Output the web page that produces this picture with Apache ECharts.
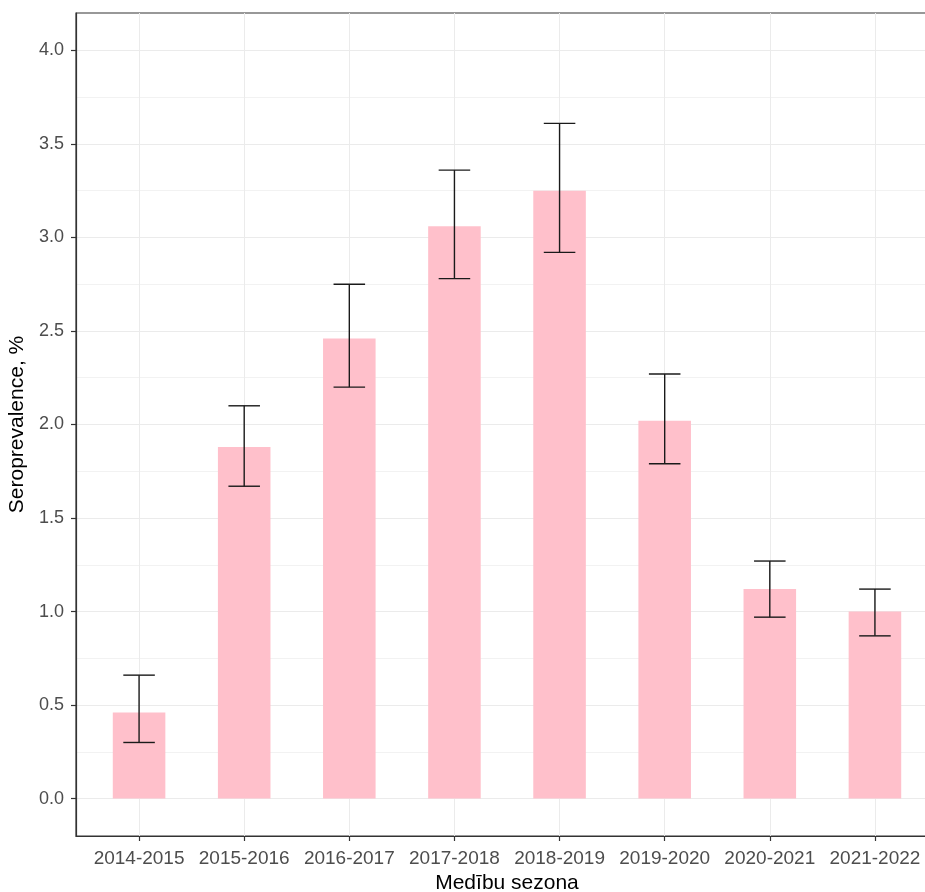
<!DOCTYPE html>
<html>
<head>
<meta charset="utf-8">
<script src="https://cdn.jsdelivr.net/npm/echarts@6/dist/echarts.min.js"></script>
<style>
html,body{margin:0;padding:0;background:#fff;}
#chart{width:925px;height:892px;}
</style>
</head>
<body>
<div id="chart"></div>
<script>
const categories = ['2014-2015','2015-2016','2016-2017','2017-2018','2018-2019','2019-2020','2020-2021','2021-2022'];
const values = [0.46, 1.88, 2.46, 3.06, 3.25, 2.02, 1.12, 1.00];
const lower  = [0.30, 1.67, 2.20, 2.78, 2.92, 1.79, 0.97, 0.87];
const upper  = [0.66, 2.10, 2.75, 3.36, 3.61, 2.27, 1.27, 1.12];
const yTicks = [0, 0.5, 1.0, 1.5, 2.0, 2.5, 3.0, 3.5, 4.0];
const yMinor = [0.25, 0.75, 1.25, 1.75, 2.25, 2.75, 3.25, 3.75];

const xPos = categories.map((c, i) => i + 1);
const barData = values.map((v, i) => [xPos[i], v]);
const errData = values.map((v, i) => [xPos[i], lower[i], upper[i]]);

const chart = echarts.init(document.getElementById('chart'), null, {renderer: 'canvas'});
const font = 'Liberation Sans, Arial, sans-serif';

chart.setOption({
  backgroundColor: '#fff',
  animation: false,
  grid: {left: 76, right: -13, top: 13, bottom: 56, show: true, borderColor: '#333333', borderWidth: 1.2,
    backgroundColor: 'transparent', containLabel: false, outerBoundsMode: 'none'},
  xAxis: {
    type: 'value', min: 0.4, max: 8.6,
    name: 'Medību sezona', nameLocation: 'middle', nameGap: 33,
    nameTextStyle: {fontFamily: font, fontSize: 21, color: '#000'},
    axisLine: {show: true, onZero: false, lineStyle: {color: '#333333', width: 1.2}},
    axisTick: {show: true, length: 5, customValues: xPos, lineStyle: {color: '#333333', width: 1.2}},
    axisLabel: {customValues: xPos, margin: 13, fontFamily: font, fontSize: 19, color: '#4D4D4D',
      formatter: v => categories[Math.round(v) - 1] || ''},
    splitLine: {show: true, lineStyle: {color: '#EBEBEB', width: 1}}
  },
  yAxis: [{
    type: 'value', min: -0.2, max: 4.2,
    name: 'Seroprevalence, %', nameLocation: 'middle', nameGap: 41, nameRotate: 90,
    nameTextStyle: {fontFamily: font, fontSize: 21, color: '#000'},
    axisLine: {show: true, lineStyle: {color: '#333333', width: 1.2}},
    axisTick: {show: true, length: 5, customValues: yTicks, lineStyle: {color: '#333333', width: 1.2}},
    axisLabel: {customValues: yTicks, margin: 12, fontFamily: font, fontSize: 18, color: '#4D4D4D',
      formatter: v => v.toFixed(1)},
    splitLine: {show: true, lineStyle: {color: '#EBEBEB', width: 1}}
  }, {
    type: 'value', min: -0.2, max: 4.2, position: 'left',
    axisLine: {show: false},
    axisTick: {show: false, customValues: yMinor},
    axisLabel: {show: false, customValues: yMinor},
    splitLine: {show: true, lineStyle: {color: '#F2F2F2', width: 1}}
  }],
  series: [{
    type: 'custom',
    data: barData,
    z: 2,
    renderItem: function (params, api) {
      const x = api.value(0), v = api.value(1);
      const top = api.coord([x, v]);
      const base = api.coord([x, 0]);
      const w = api.size([0.5, 0])[0];
      return {type: 'rect', shape: {x: top[0] - w / 2, y: top[1], width: w, height: base[1] - top[1]},
        style: {fill: '#FFC0CB'}};
    }
  }, {
    type: 'custom',
    data: errData,
    z: 3,
    renderItem: function (params, api) {
      const x = api.value(0);
      const lo = api.coord([x, api.value(1)]);
      const hi = api.coord([x, api.value(2)]);
      const hw = api.size([0.3, 0])[0] / 2;
      const st = {stroke: '#1a1a1a', lineWidth: 1.4};
      return {type: 'group', children: [
        {type: 'line', shape: {x1: lo[0], y1: lo[1], x2: hi[0], y2: hi[1]}, style: st},
        {type: 'line', shape: {x1: hi[0] - hw, y1: hi[1], x2: hi[0] + hw, y2: hi[1]}, style: st},
        {type: 'line', shape: {x1: lo[0] - hw, y1: lo[1], x2: lo[0] + hw, y2: lo[1]}, style: st}
      ]};
    }
  }]
});
</script>
</body>
</html>
